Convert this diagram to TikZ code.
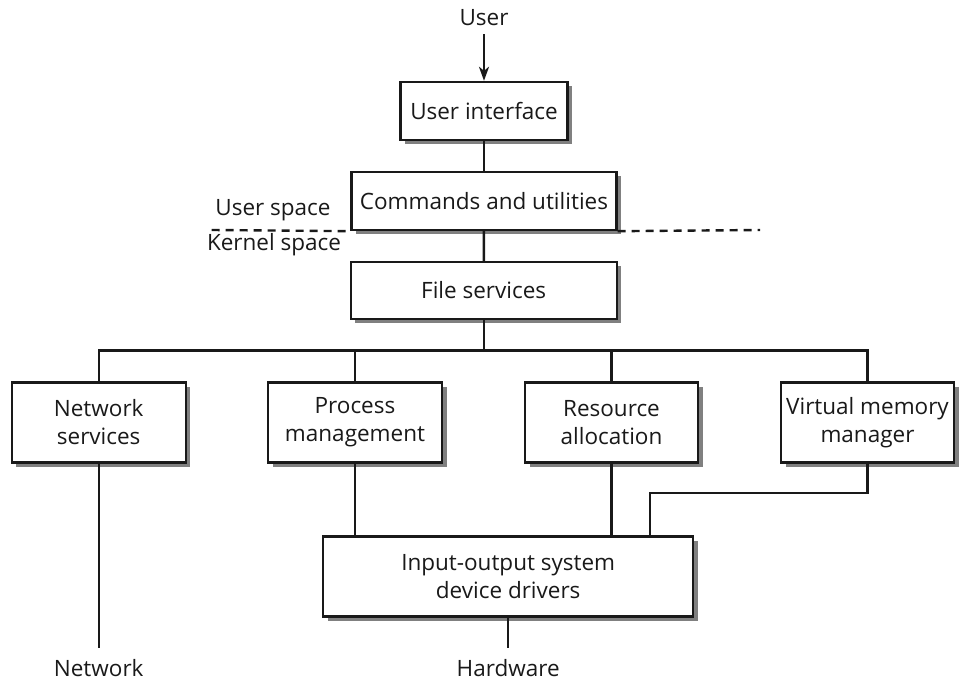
\documentclass[tikz,border=0pt]{standalone}
\usepackage{fontspec}
\setmainfont{Open Sans}
\usetikzlibrary{arrows.meta,shadows}
\begin{document}
\begin{tikzpicture}[x=1pt,y=1pt,
  box/.style={draw=black!90, line width=2.4pt, fill=white, align=center,
    inner sep=0pt,
    drop shadow={shadow xshift=4.5pt, shadow yshift=-4.5pt, fill=black!50, opacity=1}},
  lbl/.style={align=center, inner sep=0pt},
  conn/.style={draw=black!90, line width=2.4pt},
  every node/.style={font=\fontsize{22.5}{28}\selectfont, text=black!90}]
\useasboundingbox (0,0) rectangle (961,680);

\node[lbl] (user) at (484,662) {User};
\node[box, minimum width=167pt, minimum height=58pt] (ui) at (484,569) {User interface};
\node[box, minimum width=265pt, minimum height=58pt] (cmd) at (484,479) {Commands and utilities};
\node[box, minimum width=266pt, minimum height=57pt] (fs) at (483.7,389.5) {File services};

\node[lbl] (uspace) at (273,470) {User space};
\node[lbl] (kspace) at (274,435) {Kernel space};

\node[box, minimum width=174pt, minimum height=80pt] (net) at (98.7,257.5) {Network\\services};
\node[box, minimum width=174pt, minimum height=80pt] (proc) at (355,257.5) {Process\\management};
\node[box, minimum width=173pt, minimum height=80pt] (res) at (611.5,257.5) {Resource\\allocation};
\node[box, minimum width=173pt, minimum height=80pt] (vm) at (867.5,257.5) {Virtual memory\\manager};

\node[box, minimum width=370pt, minimum height=80pt] (io) at (508.2,103.3) {Input-output system\\device drivers};

\node[lbl] (network) at (98.7,12) {Network};
\node[lbl] (hardware) at (508.2,12) {Hardware};

\coordinate (bus) at (483.7,329.3);
\coordinate (elbow) at (650,186.7);
\coordinate (netend) at (98.7,32.3);
\coordinate (hwend) at (508.2,32.3);
\coordinate (dashL) at (211.7,450);
\coordinate (dashR) at (760,450);

\draw[conn, -{Stealth[length=14pt,width=10pt,inset=4pt]}, shorten <=8pt] (user) -- (ui);
\draw[conn] (ui) -- (cmd);
\draw[conn] (cmd) -- (fs);
\draw[black!90, line width=2.4pt, dash pattern=on 8pt off 6pt] (dashL) -- (cmd.south west);
\draw[black!90, line width=2.4pt, dash pattern=on 8pt off 6pt] (cmd.south east) -- (dashR);

\draw[conn] (fs) -- (bus);
\draw[conn] (net.north) |- (bus);
\draw[conn] (vm.north) |- (bus);
\draw[conn] (proc.north) -- (proc.north |- bus);
\draw[conn] (res.north) -- (res.north |- bus);

\draw[conn] (proc.south) -- (proc.south |- io.north);
\draw[conn] (res.south) -- (res.south |- io.north);
\draw[conn] (vm.south) |- (elbow) -- (elbow |- io.north);

\draw[conn] (net.south) -- (netend);
\draw[conn] (io.south) -- (hwend);
\end{tikzpicture}
\end{document}
